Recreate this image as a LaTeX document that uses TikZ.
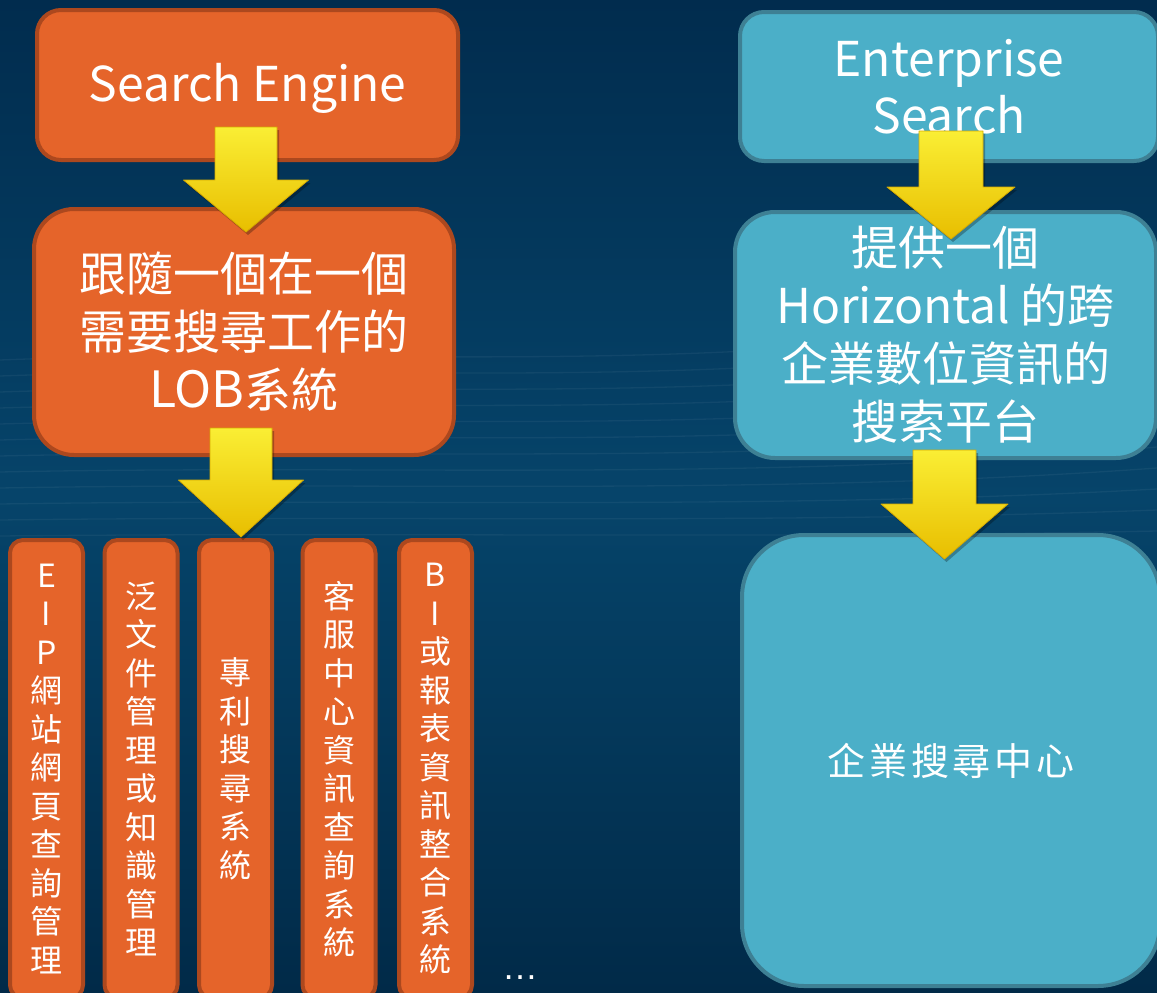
\documentclass[tikz,border=0pt]{standalone}
\usepackage{fontspec}
\setmainfont{Noto Sans CJK TC}
\newfontfamily\dotsfont{Liberation Sans}
\usetikzlibrary{calc}
\definecolor{bgtop}{RGB}{1,44,78}
\definecolor{bgmid}{RGB}{6,68,106}
\definecolor{bgbot}{RGB}{1,42,72}
\definecolor{orfill}{RGB}{229,100,42}
\definecolor{ordraw}{RGB}{172,72,30}
\definecolor{blfill}{RGB}{75,175,200}
\definecolor{bldraw}{RGB}{62,128,148}
\definecolor{yltop}{RGB}{250,238,52}
\definecolor{ylbot}{RGB}{232,190,0}
\definecolor{yledge}{RGB}{214,170,0}
\newcommand\yarrow[5]{%
  \fill[black, opacity=0.28] ($(#1)+(-#3+2,3)$) -- ($(#1)+(#3+2,3)$) -- ($(#2)+(#3+2,-#5+3)$) -- ($(#2)+(#4+2,-#5+3)$) -- ($(#2)+(2,3)$) -- ($(#2)+(-#4+2,-#5+3)$) -- ($(#2)+(-#3+2,-#5+3)$) -- cycle;
  \draw[yarr] ($(#1)+(-#3,0)$) -- ($(#1)+(#3,0)$) -- ($(#2)+(#3,-#5)$) -- ($(#2)+(#4,-#5)$) -- (#2) -- ($(#2)+(-#4,-#5)$) -- ($(#2)+(-#3,-#5)$) -- cycle;}
\begin{document}
\begin{tikzpicture}[x=1pt,y=-1pt,
  obox/.style={draw=ordraw, fill=orfill, line width=4pt, text=white, align=center, inner sep=0pt},
  bbox/.style={draw=bldraw, fill=blfill, line width=4pt, text=white, align=center, inner sep=0pt},
  vbox/.style={obox, rounded corners=13pt, minimum width=73pt, minimum height=458pt, font=\fontsize{32}{38.5}\selectfont},
  yarr/.style={draw=yledge, line width=0.8pt, top color=yltop, bottom color=ylbot, line join=round},
  streak/.style={white, opacity=0.05, line width=1.3pt},
  lat/.style={font=\fontsize{48}{57}\selectfont}]
\path[use as bounding box] (0,0) rectangle (1157,993);
\clip (0,0) rectangle (1157,993);
\fill[top color=bgtop, bottom color=bgbot, middle color=bgmid] (0,0) rectangle (1157,993);
\foreach \i in {0,...,11}{
  \draw[streak] (0,{360+16*\i}) .. controls (380,{345+17*\i}) and (760,{385+14*\i}) .. (1157,{300+21*\i});
}
% left column
\node[obox, rounded corners=24pt, minimum width=421pt, minimum height=150pt] (se) at (247.5,85) {};
\node[text=white, lat, inner sep=0pt] (setext) at ($(se.center)+(0,3)$) {Search Engine};
\node[obox, rounded corners=40pt, minimum width=420pt, minimum height=246pt, font=\fontsize{47}{58}\selectfont] (lob) at (244,332) {跟隨一個在一個\\需要搜尋工作的\\{\fontsize{50}{58}\selectfont LOB}系統};
\node[vbox] (va) at (46.5,769) {E\\I\\P\\網\\站\\網\\頁\\查\\詢\\管\\理};
\node[vbox] (vb) at (141,769) {泛\\文\\件\\管\\理\\或\\知\\識\\管\\理};
\node[vbox] (vc) at (235.5,769) {專\\利\\搜\\尋\\系\\統};
\node[vbox] (vd) at (339,769) {客\\服\\中\\心\\資\\訊\\查\\詢\\系\\統};
\node[vbox] (ve) at (435.5,769) {B\\I\\或\\報\\表\\資\\訊\\整\\合\\系\\統};
\node[text=white, font=\dotsfont\fontsize{36}{36}\selectfont, anchor=base] (dots) at (520,979) {…};
% right column
\node[bbox, rounded corners=24pt, minimum width=418pt, minimum height=149pt, lat] (r1) at (949,86.5) {Enterprise\\Search};
\node[bbox, rounded corners=40pt, minimum width=421pt, minimum height=246pt, font=\fontsize{47}{58}\selectfont] (r2) at (945.5,335) {提供一個\\{\fontsize{48}{58}\selectfont Horizontal} 的跨\\企業數位資訊的\\搜索平台};
\node[bbox, rounded corners=62pt, minimum width=418pt, minimum height=451pt, font=\fontsize{38}{40}\selectfont] (r3) at (951,760.5) {企\kern3.7pt 業\kern3.7pt 搜\kern3.7pt 尋\kern3.7pt 中\kern3.7pt 心};
% arrows
\coordinate (a1s) at ($(se.south)+(-1.5,-35)$);
\coordinate (a1t) at ($(lob.north)+(2,25)$);
\yarrow{a1s}{a1t}{31}{62.5}{52}
\coordinate (a2s) at ($(lob.south)+(-3,-29)$);
\coordinate (a2t) at ($(vc.north)+(5.5,-1)$);
\yarrow{a2s}{a2t}{31}{62.5}{57}
\coordinate (a3s) at ($(r1.south)+(2,-32)$);
\coordinate (a3t) at ($(r2.north)+(5.5,29)$);
\yarrow{a3s}{a3t}{32}{64}{52}
\coordinate (a4s) at ($(r2.south)+(-1,-10)$);
\coordinate (a4t) at ($(r3.north)+(-6.5,26)$);
\yarrow{a4s}{a4t}{31.5}{63.5}{55}
\end{tikzpicture}
\end{document}
